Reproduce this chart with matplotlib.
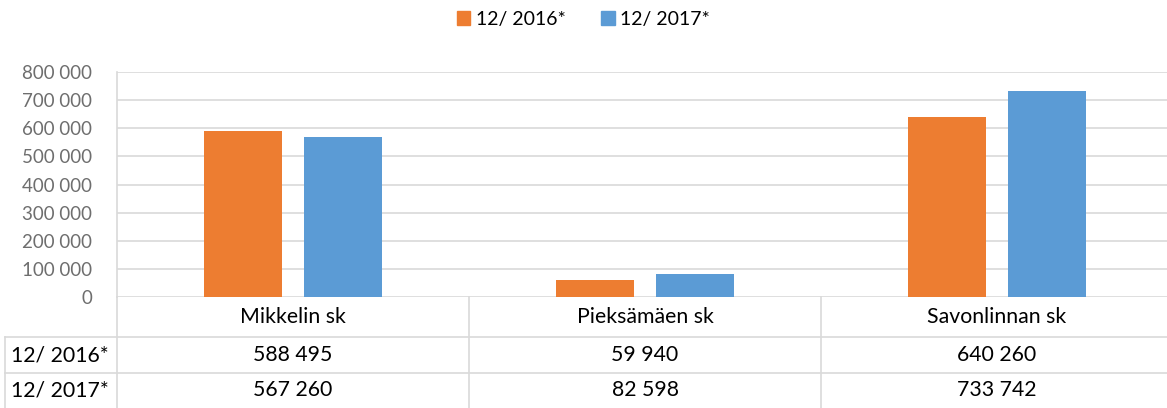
import matplotlib.pyplot as plt
from matplotlib.patches import Patch
from matplotlib.ticker import FuncFormatter, MultipleLocator

plt.rcParams['font.family'] = ['Lato', 'DejaVu Sans']

categories = ["Mikkelin sk", "Pieksämäen sk", "Savonlinnan sk"]
series_names = ["12/ 2016*", "12/ 2017*"]
values_2016 = [588495, 59940, 640260]
values_2017 = [567260, 82598, 733742]
colors = ['#ED7D31', '#5B9BD5']

W, H = 1167, 408
fig = plt.figure(figsize=(W / 100, H / 100), dpi=100)

# plot area in pixels: x 117..1173, y 72..297
left, right, top, bottom = 117, 1173, 72, 297
ax = fig.add_axes([left / W, (H - bottom) / H, (right - left) / W, (bottom - top) / H])

x = list(range(len(categories)))
bw = 0.222
off = 0.141
ax.bar([i - off for i in x], values_2016, width=bw, color=colors[0], zorder=3)
ax.bar([i + off for i in x], values_2017, width=bw, color=colors[1], zorder=3)

ax.set_xlim(-0.5, len(categories) - 0.5)
ax.set_ylim(0, 800000)
ax.yaxis.set_major_locator(MultipleLocator(100000))
ax.yaxis.set_major_formatter(FuncFormatter(lambda v, p: f"{int(v):,}".replace(",", " ")))
ax.grid(axis='y', color='#d9d9d9', linewidth=1.2, zorder=0)
ax.set_xticks([])
for s in ['top', 'right', 'bottom']:
    ax.spines[s].set_visible(False)
ax.spines['left'].set_color('#d9d9d9')
ax.spines['left'].set_linewidth(1.2)
ax.tick_params(axis='y', length=0, pad=18, labelsize=13.5, labelcolor='#6e6e6e')

# data table below the plot
tab = fig.add_axes([left / W, 0, (right - left) / W, (H - bottom) / H])
tab.set_xlim(-0.5, len(categories) - 0.5)
tab.set_ylim(0, H - bottom)
tab.axis('off')
line_kw = dict(color='#d9d9d9', linewidth=1.2, clip_on=False)
head_left = -0.5 - (left - 5) / ((right - left) / len(categories))
row_y = [H - 337, H - 373]
for y in row_y:
    tab.plot([head_left, len(categories)], [y, y], **line_kw)
for i in range(len(categories)):
    tab.plot([i - 0.5, i - 0.5], [0, H - bottom], **line_kw)
tab.plot([head_left, head_left], [0, H - 337], **line_kw)

txt_kw = dict(fontsize=15.3, color='#000000', va='center')
for i, c in enumerate(categories):
    tab.text(i, H - 317, c, ha='center', **txt_kw)
rows_y = [H - 355, H - 390.5]
for name, vals, y in zip(series_names, [values_2016, values_2017], rows_y):
    tab.text(head_left + 0.017, y, name, ha='left', clip_on=False, **txt_kw)
    for i, v in enumerate(vals):
        tab.text(i, y, f"{v:,}".replace(",", " "), ha='center', **txt_kw)

handles = [Patch(color=c) for c in colors]
fig.legend(handles, series_names, loc='center', bbox_to_anchor=(0.5, 1 - 19 / H), ncol=2,
           frameon=False, fontsize=14, handlelength=0.7, handleheight=0.7,
           handletextpad=0.3, columnspacing=1.8)

fig.savefig('out.png', dpi=100)
